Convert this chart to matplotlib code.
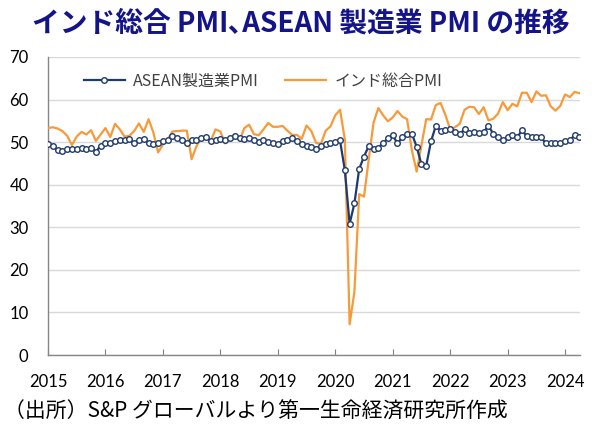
import matplotlib
matplotlib.use("Agg")
import matplotlib.pyplot as plt
import numpy as np

# Monthly data, Jan 2015 - Apr 2024
asean_pmi = [
    49.5, 49.0, 48.2, 47.9, 48.3, 48.5, 48.3, 48.7, 48.4, 48.7, 47.7, 49.2,   # 2015
    49.7, 49.8, 50.3, 50.5, 50.5, 50.7, 49.7, 50.5, 50.7, 49.7, 49.5, 49.8,   # 2016
    50.3, 50.5, 51.4, 50.9, 50.5, 49.7, 50.6, 50.6, 50.9, 51.1, 50.3, 50.5,   # 2017
    50.8, 50.5, 50.9, 51.4, 51.0, 50.7, 50.9, 50.5, 50.0, 50.4, 50.0, 49.8,   # 2018
    49.6, 50.2, 50.5, 50.9, 50.3, 49.5, 49.0, 48.8, 48.5, 49.0, 49.6, 49.8,   # 2019
    50.1, 50.4, 43.4, 30.8, 35.6, 43.7, 46.6, 49.1, 48.3, 48.7, 49.8, 50.9,   # 2020
    51.6, 49.7, 51.1, 52.0, 52.0, 48.9, 44.8, 44.5, 50.2, 53.8, 52.7, 52.8,   # 2021
    53.0, 52.4, 51.9, 53.0, 52.2, 52.4, 52.2, 52.4, 53.8, 52.0, 51.1, 50.5,   # 2022
    51.1, 51.6, 51.1, 52.8, 51.4, 51.1, 51.1, 51.1, 49.7, 49.7, 49.7, 49.8,   # 2023
    50.3, 50.5, 51.6, 51.1,                                                   # 2024
]
india_pmi = [
    53.3, 53.5, 53.2, 52.6, 51.5, 49.3, 51.3, 52.4, 51.8, 52.8, 50.3, 51.8,   # 2015
    53.3, 51.2, 54.3, 53.0, 51.3, 51.5, 52.6, 54.4, 52.4, 55.4, 52.3, 47.6,   # 2016
    49.4, 50.7, 52.5, 52.6, 52.7, 52.7, 46.0, 49.0, 51.1, 51.3, 50.3, 53.0,   # 2017
    52.5, 49.7, 50.8, 51.9, 50.4, 53.3, 54.1, 51.9, 51.6, 53.0, 54.5, 53.6,   # 2018
    53.6, 53.8, 52.7, 51.7, 51.7, 50.8, 53.9, 52.6, 49.8, 49.6, 52.7, 53.7,   # 2019
    56.3, 57.6, 50.6, 7.2, 14.8, 37.8, 37.2, 46.0, 54.6, 58.0, 56.3, 54.9,    # 2020
    55.8, 57.3, 56.0, 55.4, 48.1, 43.1, 49.2, 55.4, 55.3, 58.7, 59.2, 56.4,   # 2021
    53.0, 53.5, 54.3, 57.6, 58.3, 58.2, 56.6, 58.2, 55.1, 55.5, 56.7, 59.4,   # 2022
    57.5, 59.0, 58.4, 61.6, 61.6, 59.4, 61.9, 60.9, 61.0, 58.4, 57.4, 58.5,   # 2023
    61.2, 60.6, 61.8, 61.5,                                                   # 2024
]
start_year = 2015
year_ticks = list(range(2015, 2025))
y_ticks = [0, 10, 20, 30, 40, 50, 60, 70]

label_asean = "ASEAN製造業PMI"
label_india = "インド総合PMI"
title = "インド総合 PMI､ASEAN 製造業 PMI の推移"
source = "（出所）S&P グローバルより第一生命経済研究所作成"

cjk = ["Noto Sans CJK JP", "DejaVu Sans"]
num_font = ["Lato", "DejaVu Sans"]

x = start_year + np.arange(len(asean_pmi)) / 12.0

fig = plt.figure(figsize=(5.99, 4.34), dpi=100)
ax = fig.add_axes([48/599, 1-355/434, (580-48)/599, (355-57)/434])

ax.plot(x, india_pmi, color="#F79A3A", lw=1.6, label=label_india, zorder=3)
ax.plot(x, asean_pmi, color="#1F3A6E", lw=1.6, marker="o", ms=4.0,
        mfc="white", mec="#1F3A6E", mew=1.0, label=label_asean, zorder=4)

ax.set_xlim(2015, 2015 + (len(asean_pmi) - 1) / 12.0 + 0.01)
ax.set_ylim(0, 70)
ax.set_yticks(y_ticks)
ax.set_xticks(year_ticks)
ax.set_xticklabels([str(y) for y in year_ticks], fontfamily=num_font, fontsize=12)
ax.set_yticklabels([str(v) for v in y_ticks], fontfamily=num_font, fontsize=12)
ax.grid(axis="y", color="#D9D9D9", lw=1.0)
ax.set_axisbelow(True)
ax.tick_params(axis="x", direction="in", length=4, pad=14, color="#808080")
ax.tick_params(axis="y", length=0, pad=14)
for s in ["top", "right"]:
    ax.spines[s].set_visible(False)
ax.spines["left"].set_color("#868686")
ax.spines["bottom"].set_color("#868686")
ax.spines["left"].set_linewidth(1.0)
ax.spines["bottom"].set_linewidth(1.0)

handles, labels = ax.get_legend_handles_labels()
leg = ax.legend(handles[::-1], labels[::-1], loc="upper left", bbox_to_anchor=(0.04, 0.995),
                ncol=2, frameon=False, prop={"family": cjk, "size": 11.5},
                handlelength=2.6, columnspacing=1.6, handletextpad=0.5)
for t in leg.get_texts():
    t.set_color("#404040")

fig.text(0.503, 0.946, title, ha="center", va="center", fontsize=20,
         fontweight="bold", color="#14148A", family=cjk)
fig.text(0.006, 0.052, source, ha="left", va="center", fontsize=15,
         color="#000000", family=cjk)

fig.savefig("out.png", dpi=100)
